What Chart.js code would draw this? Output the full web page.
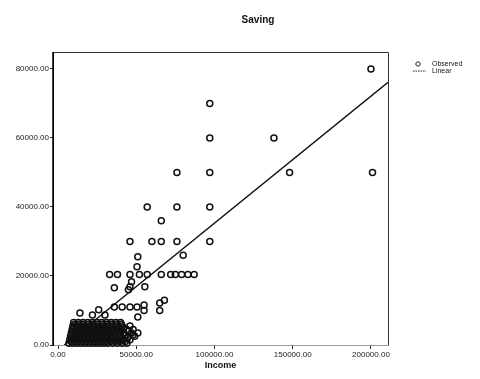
<!DOCTYPE html>
<html>
<head>
<meta charset="utf-8">
<script src="https://cdn.jsdelivr.net/npm/chart.js@4/dist/chart.umd.min.js"></script>
<style>
  html, body { margin: 0; padding: 0; background: #fff; }
  #box { width: 480px; height: 379px; }
</style>
</head>
<body>
<div id="box"><canvas id="myChart"></canvas></div>
<script>
// --- DADOS ---
const income = [
    // agrupamento denso perto da origem
    7000, 9500, 12000, 14500, 17000, 19500, 22000, 24500, 27000, 29500, 32000, 35000, 38000, 41000, 44000,
    8250, 10750, 13250, 15750, 18250, 20750, 23250, 25750, 28250, 30750, 33500, 36500, 39500, 43000,
    7500, 10000, 12500, 15000, 17500, 20000, 22500, 25000, 27500, 30000, 33000, 36000, 39000, 42000, 46000,
    8750, 11250, 13750, 16250, 18750, 21250, 23750, 26250, 28750, 31500, 34500, 37500, 41000, 44500,
    8000, 10500, 13000, 15500, 18000, 20500, 23000, 25500, 28000, 31000, 34000, 37000, 40000, 45000, 49000,
    9250, 11750, 14250, 16750, 19250, 21750, 24500, 27500, 30500, 33500, 36500, 39500, 43000, 48000,
    8500, 11000, 13500, 16000, 18500, 21000, 24000, 27000, 30000, 33000, 36000, 39000, 42000, 47000, 51000,
    9750, 12250, 14750, 17250, 19750, 22500, 25500, 28500, 31500, 34500, 37500, 40500, 45000,
    9000, 11500, 14000, 16500, 19000, 22000, 25000, 28000, 31000, 34000, 37000, 40000, 44000, 48000,
    10250, 12750, 15250, 17750, 20500, 23500, 26500, 29500, 32500, 35500, 38500, 42000,
    9500, 12000, 14500, 17000, 20000, 23000, 26000, 29000, 32000, 35000, 38000, 41000, 46000,
    10750, 13500, 16500, 19500, 22500, 25500, 28500, 31500, 34500, 37500, 40500,
    10000, 13000, 16000, 19000, 22000, 25000, 28000, 31000, 34000, 37000, 40000,
    // pontos intermediários
    14000, 22000, 26000, 30000, 36000, 41000, 46000, 50500, 55000, 55000, 51000, 65000, 65000, 68000,
    36000, 45000, 46000, 47000, 55500,
    33000, 38000, 46000, 52000, 57000, 66000, 72000, 75000, 79000, 83000, 87000,
    50500, 51000, 80000,
    46000, 60000, 66000, 76000, 97000,
    66000,
    57000, 76000, 97000,
    76000, 97000, 148000, 201000,
    97000, 138000,
    97000,
    200000
];
const saving = [
    500, 500, 500, 500, 500, 500, 500, 500, 500, 500, 500, 500, 500, 500, 500,
    1000, 1000, 1000, 1000, 1000, 1000, 1000, 1000, 1000, 1000, 1000, 1000, 1000, 1000,
    1500, 1500, 1500, 1500, 1500, 1500, 1500, 1500, 1500, 1500, 1500, 1500, 1500, 1500, 1500,
    2000, 2000, 2000, 2000, 2000, 2000, 2000, 2000, 2000, 2000, 2000, 2000, 2000, 2000,
    2500, 2500, 2500, 2500, 2500, 2500, 2500, 2500, 2500, 2500, 2500, 2500, 2500, 2500, 2500,
    3000, 3000, 3000, 3000, 3000, 3000, 3000, 3000, 3000, 3000, 3000, 3000, 3000, 3000,
    3500, 3500, 3500, 3500, 3500, 3500, 3500, 3500, 3500, 3500, 3500, 3500, 3500, 3500, 3500,
    4000, 4000, 4000, 4000, 4000, 4000, 4000, 4000, 4000, 4000, 4000, 4000, 4000,
    4500, 4500, 4500, 4500, 4500, 4500, 4500, 4500, 4500, 4500, 4500, 4500, 4500, 4500,
    5000, 5000, 5000, 5000, 5000, 5000, 5000, 5000, 5000, 5000, 5000, 5000,
    5500, 5500, 5500, 5500, 5500, 5500, 5500, 5500, 5500, 5500, 5500, 5500, 5500,
    6000, 6000, 6000, 6000, 6000, 6000, 6000, 6000, 6000, 6000, 6000,
    6500, 6500, 6500, 6500, 6500, 6500, 6500, 6500, 6500, 6500, 6500,
    9300, 8700, 10200, 8700, 11000, 11000, 11000, 11000, 11600, 10000, 8100, 12200, 10000, 13000,
    16600, 16000, 16900, 18300, 16900,
    20400, 20400, 20400, 20400, 20400, 20400, 20400, 20400, 20400, 20400, 20400,
    22700, 25600, 26000,
    30000, 30000, 30000, 30000, 30000,
    36000,
    40000, 40000, 40000,
    50000, 50000, 50000, 50000,
    60000, 60000,
    70000,
    80000
];

// reta ajustada (Linear)
const linhaX = [4000, 210900];
const linhaY = [0, 76100];

// ticks dos eixos
const xTicks = [0, 50000, 100000, 150000, 200000];
const yTicks = [0, 20000, 40000, 60000, 80000];

const legendaItens = ['Observed', 'Linear'];

const fonte = "'Liberation Sans', Arial, sans-serif";

// --- PLUGIN: título, moldura e legenda ---
const decoracao = {
    id: 'decoracao',
    afterDraw(chart) {
        const { ctx, chartArea: a } = chart;
        ctx.save();

        // moldura da área do gráfico
        ctx.strokeStyle = '#333';
        ctx.lineWidth = 1;
        ctx.setLineDash([]);
        ctx.beginPath();
        ctx.moveTo(a.left, a.top + 0.5);
        ctx.lineTo(a.right + 0.5, a.top + 0.5);
        ctx.lineTo(a.right + 0.5, a.bottom);
        ctx.stroke();
        ctx.strokeStyle = '#000';
        ctx.lineWidth = 1.5;
        ctx.beginPath();
        ctx.moveTo(a.left, a.top);
        ctx.lineTo(a.left, a.bottom);
        ctx.stroke();

        // título
        ctx.fillStyle = '#111';
        ctx.font = `bold 10px ${fonte}`;
        ctx.textAlign = 'center';
        ctx.textBaseline = 'middle';
        ctx.fillText('Saving', 258, 20);

        // legenda
        ctx.font = `7px ${fonte}`;
        ctx.textAlign = 'left';
        ctx.strokeStyle = '#222';
        ctx.lineWidth = 1;
        ctx.beginPath();
        ctx.arc(418, 64, 2.2, 0, Math.PI * 2);
        ctx.stroke();
        ctx.fillText(legendaItens[0], 432, 64);
        ctx.setLineDash([1.5, 1]);
        ctx.beginPath();
        ctx.moveTo(413, 71);
        ctx.lineTo(426, 71);
        ctx.stroke();
        ctx.setLineDash([]);
        ctx.fillText(legendaItens[1], 432, 71);

        ctx.restore();
    }
};

function criarGrafico() {
    const ctx = document.getElementById('myChart').getContext('2d');

    const pontos = income.map((x, i) => ({ x: x, y: saving[i] }));
    const reta = linhaX.map((x, i) => ({ x: x, y: linhaY[i] }));

    const fonteTicks = { family: fonte, size: 8 };

    new Chart(ctx, {
        type: 'scatter',
        data: {
            datasets: [{
                label: legendaItens[0],
                data: pontos,
                pointRadius: 3,
                pointBorderWidth: 1.5,
                pointBorderColor: '#111',
                pointBackgroundColor: 'rgba(255,255,255,0)',
                clip: false
            }, {
                label: legendaItens[1],
                type: 'line',
                data: reta,
                showLine: true,
                pointRadius: 0,
                borderColor: '#111',
                borderWidth: 1.4,
                fill: false
            }]
        },
        options: {
            responsive: true,
            maintainAspectRatio: false,
            animation: false,
            layout: { padding: { top: 52, right: 92, left: 0, bottom: 0 } },
            plugins: {
                legend: { display: false },
                title: { display: false },
                tooltip: { enabled: false }
            },
            scales: {
                x: {
                    type: 'linear',
                    min: -3200,
                    max: 210900,
                    afterBuildTicks: s => { s.ticks = xTicks.map(v => ({ value: v })); },
                    afterFit: s => { s.height = 34; },
                    ticks: {
                        callback: v => v.toFixed(2),
                        font: fonteTicks,
                        color: '#222',
                        padding: 1,
                        maxRotation: 0,
                        autoSkip: false
                    },
                    grid: { drawOnChartArea: false, tickLength: 4, color: '#222' },
                    border: { color: '#999', dash: [2, 1] },
                    title: {
                        display: true,
                        text: 'Income',
                        font: { family: fonte, size: 9, weight: 'bold' },
                        color: '#111',
                        padding: { top: 2, bottom: 8 }
                    }
                },
                y: {
                    type: 'linear',
                    min: 0,
                    max: 84900,
                    afterBuildTicks: s => { s.ticks = yTicks.map(v => ({ value: v })); },
                    afterFit: s => { s.width = 53; },
                    ticks: {
                        callback: v => v.toFixed(2),
                        font: fonteTicks,
                        color: '#222',
                        padding: 1
                    },
                    grid: { drawOnChartArea: false, tickLength: 3, color: '#222' },
                    border: { color: '#000' }
                }
            }
        },
        plugins: [decoracao]
    });
}

document.addEventListener('DOMContentLoaded', criarGrafico);
</script>
</body>
</html>
